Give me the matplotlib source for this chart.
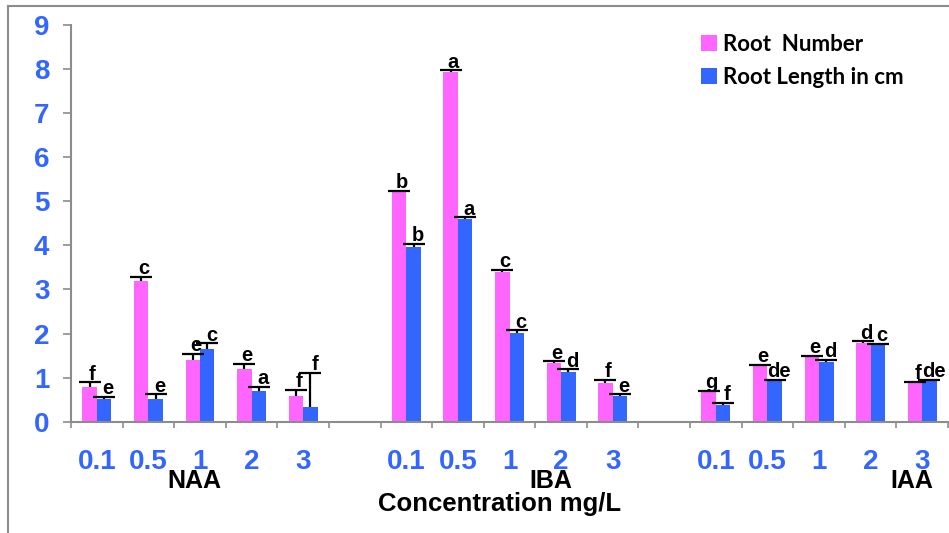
import matplotlib
matplotlib.use('Agg')
import matplotlib.pyplot as plt
import numpy as np
from matplotlib.lines import Line2D

# data
concs = ['0.1', '0.5', '1', '2', '3']
groups = ['NAA', 'IBA', 'IAA']

root_number = [0.78, 3.20, 1.40, 1.20, 0.59,
               5.20, 7.93, 3.40, 1.33, 0.87,
               0.67, 1.26, 1.46, 1.79, 0.87]
root_number_err = [0.11, 0.09, 0.14, 0.12, 0.13,
                   0.04, 0.04, 0.04, 0.04, 0.08,
                   0.03, 0.03, 0.04, 0.03, 0.03]
root_number_sig = ['f', 'c', 'e', 'e', 'f',
                   'b', 'a', 'c', 'e', 'f',
                   'g', 'e', 'e', 'd', 'f']

root_length = [0.51, 0.51, 1.64, 0.70, 0.33,
               3.96, 4.61, 2.02, 1.12, 0.59,
               0.38, 0.92, 1.36, 1.74, 0.92]
root_length_err = [0.06, 0.11, 0.14, 0.09, 0.78,
                   0.07, 0.03, 0.05, 0.07, 0.03,
                   0.05, 0.03, 0.05, 0.03, 0.03]
root_length_sig = ['e', 'e', 'c', 'a', 'f',
                   'b', 'a', 'c', 'd', 'e',
                   'f', 'de', 'd', 'c', 'de']

pink = '#FF66FF'
blue = '#3366FF'
grey = '#8C8C8C'

plt.rcParams['font.family'] = ['Liberation Sans', 'DejaVu Sans']
plt.rcParams['font.weight'] = 'bold'

fig = plt.figure(figsize=(9.49, 5.33), dpi=100)
ax = fig.add_axes([0.0748, 0.2088, 0.9242, 0.7443])

# one empty slot between groups
x = np.array([g * 6 + i for g in range(len(groups)) for i in range(len(concs))])
w = 0.28
n = len(x)

ekw = dict(elinewidth=1.6, capthick=1.6, ecolor='black')
b1 = ax.bar(x - w / 2, root_number, w, color=pink, label='Root  Number',
            yerr=[np.zeros(n), root_number_err], capsize=8, error_kw=ekw)
b2 = ax.bar(x + w / 2, root_length, w, color=blue, label='Root Length in cm',
            yerr=[np.zeros(n), root_length_err], capsize=8, error_kw=ekw)
# only the upper caps are wanted
for b in (b1, b2):
    b.errorbar.lines[1][0].set_visible(False)

# significance letters
for xi, v, e, s in zip(x, root_number, root_number_err, root_number_sig):
    ax.annotate(s, (xi - w / 2, v + e), xytext=(2, -1), textcoords='offset points',
                ha='center', va='bottom', fontsize=14.5, fontweight='bold')
for xi, v, e, s in zip(x, root_length, root_length_err, root_length_sig):
    ax.annotate(s, (xi + w / 2, v + e), xytext=(3, -1), textcoords='offset points',
                ha='center', va='bottom', fontsize=14.5, fontweight='bold')

ax.set_xlim(-0.5, 16.5)
ax.set_ylim(0, 9)
ax.set_yticks(range(10))

ax.set_xticks(x)
ax.set_xticklabels(concs * 3)
ax.set_xticks(np.arange(-0.5, 17, 1), minor=True)
ax.tick_params(axis='x', which='major', length=0, pad=20)
ax.tick_params(axis='x', which='minor', length=4.5, width=1.2, color=grey)
ax.tick_params(axis='y', length=5.5, width=1.2, color=grey, pad=10)

for lab in ax.get_xticklabels() + ax.get_yticklabels():
    lab.set_fontsize(20)
    lab.set_fontweight('bold')
    lab.set_color(blue)

for side in ['top', 'right']:
    ax.spines[side].set_visible(False)
for side in ['left', 'bottom']:
    ax.spines[side].set_color(grey)
    ax.spines[side].set_linewidth(1.5)

# group names under the ticks
group_x = [1.9, 8.8, 15.8]
for gx, g in zip(group_x, groups):
    fig.text(ax.transData.transform((gx, 0))[0] / fig.bbox.width, 1 - 481 / 533, g,
             ha='center', va='center', fontsize=18, fontweight='bold')

fig.text(500 / 949, 1 - 504 / 533, 'Concentration mg/L', ha='center', va='center',
         fontsize=18.5, fontweight='bold')

leg = fig.legend(loc='upper left', bbox_to_anchor=(0.7387, 0.937), frameon=False,
                 borderpad=0, borderaxespad=0, handlelength=0.7, handleheight=0.7,
                 handletextpad=0.27, labelspacing=0.55,
                 prop=dict(family='Lato', weight='bold', size=16))

# border of the chart area
fig.add_artist(Line2D([8 / 949, 8 / 949], [0, 1 - 6 / 533], color=grey, lw=1.5))
fig.add_artist(Line2D([8 / 949, 1], [1 - 6 / 533, 1 - 6 / 533], color=grey, lw=1.5))

fig.savefig('out.png', dpi=100)
